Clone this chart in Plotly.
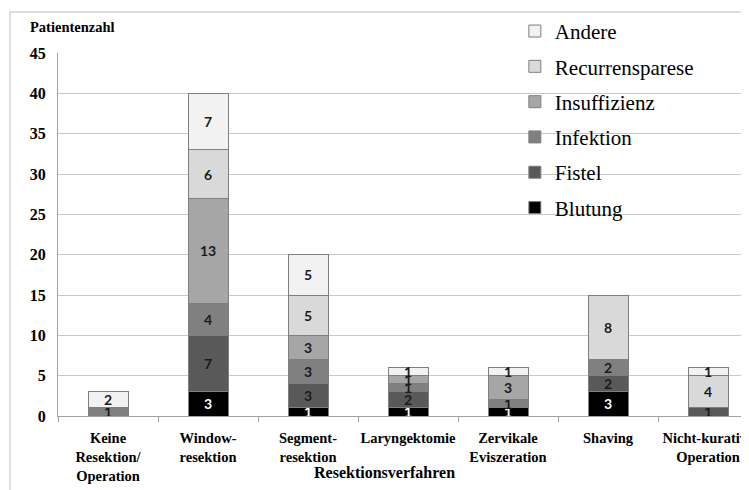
import plotly.graph_objects as go

# Kategorien (Resektionsverfahren)
categories = [
    "Keine<br>Resektion/<br>Operation",
    "Window-<br>resektion",
    "Segment-<br>resektion",
    "Laryngektomie",
    "Zervikale<br>Eviszeration",
    "Shaving",
    "Nicht-kurative<br>Operation",
]

# Komplikationen, von unten nach oben gestapelt
blutung = [0, 3, 1, 1, 1, 3, 0]
fistel = [0, 7, 3, 2, 0, 2, 1]
infektion = [1, 4, 3, 1, 1, 2, 0]
insuffizienz = [0, 13, 3, 1, 3, 0, 0]
recurrensparese = [0, 6, 5, 0, 0, 8, 4]
andere = [2, 7, 5, 1, 1, 0, 1]

y_ticks = [0, 5, 10, 15, 20, 25, 30, 35, 40, 45]

series = [
    ("Blutung", blutung, "#000000", "white"),
    ("Fistel", fistel, "#595959", "#1a1a1a"),
    ("Infektion", infektion, "#808080", "#1a1a1a"),
    ("Insuffizienz", insuffizienz, "#a6a6a6", "#1a1a1a"),
    ("Recurrensparese", recurrensparese, "#d9d9d9", "#1a1a1a"),
    ("Andere", andere, "#f2f2f2", "#1a1a1a"),
]

fig = go.Figure()
for i, (name, vals, color, txtcolor) in enumerate(series):
    fig.add_trace(go.Bar(
        x=categories,
        y=vals,
        name=name,
        legendgroup=name,
        legendrank=len(series) - i,
        marker=dict(color=color, line=dict(color="#7f7f7f", width=1)),
        text=[str(v) if v else "" for v in vals],
        textposition="inside",
        insidetextanchor="middle",
        constraintext="none",
        textangle=0,
        textfont=dict(family="Lato", size=14, color=txtcolor, weight="bold"),
        width=0.4,
    ))

# die Seite hat 8px Rand, daher 741x482
fig.update_layout(
    width=741,
    height=482,
    barmode="stack",
    plot_bgcolor="white",
    paper_bgcolor="white",
    margin=dict(l=50, r=0, t=45, b=74, autoexpand=False),
    font=dict(family="Liberation Serif", color="#000000"),
    showlegend=True,
    legend=dict(
        xref="container", yref="container",
        x=0.684, y=0.994, xanchor="left", yanchor="top",
        bgcolor="rgba(0,0,0,0)",
        traceorder="grouped",
        tracegroupgap=5,
        font=dict(family="Liberation Serif", size=21, color="#000000"),
        itemwidth=30,
    ),
    xaxis=dict(
        range=[-0.5, 6.41],
        automargin=False,
        tickangle=0,
        showline=True, linecolor="#a0a0a0",
        ticks="outside", tickson="boundaries", ticklen=5, tickcolor="#a0a0a0",
        ticklabelstandoff=9,
        tickfont=dict(family="Liberation Serif", size=14.5, weight="bold"),
    ),
    yaxis=dict(
        range=[0, 45],
        automargin=False,
        tickvals=y_ticks,
        showgrid=True, gridcolor="#c8c8c8", gridwidth=1,
        showline=True, linecolor="#a0a0a0",
        ticks="", ticklabelstandoff=8,
        tickfont=dict(family="Liberation Serif", size=16, weight="bold"),
        zeroline=False,
    ),
    annotations=[
        dict(
            text="Patientenzahl", xref="paper", yref="paper",
            x=-0.043, y=1.072, xanchor="left", yanchor="middle", showarrow=False,
            font=dict(family="Liberation Serif", size=14.5, weight="bold"),
        ),
        dict(
            text="Resektionsverfahren", xref="paper", yref="paper",
            x=0.473, y=-0.157, xanchor="center", yanchor="middle", showarrow=False,
            font=dict(family="Liberation Serif", size=16, weight="bold"),
        ),
    ],
    shapes=[dict(
        type="rect", xref="paper", yref="paper",
        x0=-0.0695, y0=-0.25, x1=1.05, y1=1.113,
        line=dict(color="#bfbfbf", width=1), layer="below",
    )],
)

fig.write_html("out.html")
